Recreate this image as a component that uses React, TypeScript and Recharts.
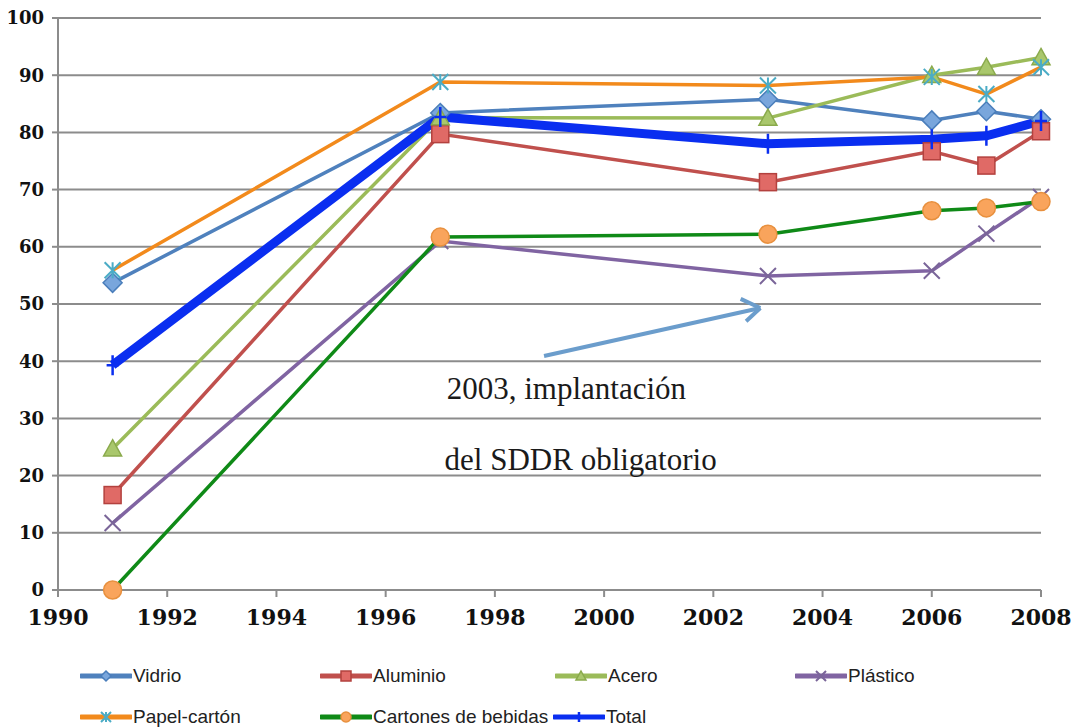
import React from "react";
import {
  LineChart,
  Line,
  XAxis,
  YAxis,
  CartesianGrid,
  Legend,
  ReferenceLine,
  ReferenceDot,
} from "recharts";

// recycling rate (%) per material
const years = [1991, 1997, 2003, 2006, 2007, 2008];
const vidrio = [53.7, 83.4, 85.8, 82.1, 83.7, 82.3];
const aluminio = [16.6, 79.7, 71.3, 76.7, 74.2, 80.2];
const acero = [24.7, 82.6, 82.5, 90.0, 91.4, 93.1];
const plastico = [11.7, 61.0, 54.9, 55.8, 62.3, 68.7];
const papel = [55.9, 88.8, 88.2, 89.7, 86.7, 91.4];
const cartones = [0, 61.7, 62.2, 66.3, 66.8, 67.9];
const total = [39.3, 82.7, 78.0, 78.8, 79.4, 82.0];

const xTicks = [1990, 1992, 1994, 1996, 1998, 2000, 2002, 2004, 2006, 2008];
const yTicks = [0, 10, 20, 30, 40, 50, 60, 70, 80, 90, 100];

// annotation (arrow in data coordinates + text)
const arrowTail = { x: 1998.9, y: 40.9 };
const arrowTip = { x: 2002.86, y: 49.3 };
const arrowWingA = { x: 2002.5, y: 50.9 };
const arrowWingB = { x: 2002.6, y: 47.0 };
const noteLines = [
  { x: 1999.31, y: 35.3, text: "2003, implantación" },
  { x: 1999.57, y: 22.8, text: "del SDDR obligatorio" },
];

const data = years.map((year, i) => ({
  year,
  vidrio: vidrio[i],
  aluminio: aluminio[i],
  acero: acero[i],
  plastico: plastico[i],
  papel: papel[i],
  cartones: cartones[i],
  total: total[i],
}));

type DotProps = { cx?: number; cy?: number; index?: number };

const diamond = (s: number) => (p: DotProps) => {
  const { cx = 0, cy = 0 } = p;
  return (
    <path
      key={`d${p.index}`}
      d={`M${cx},${cy - s}L${cx + s},${cy}L${cx},${cy + s}L${cx - s},${cy}Z`}
      fill="#79a6dc"
      stroke="#4a7ebb"
      strokeWidth={1.5}
    />
  );
};
const square = (s: number) => (p: DotProps) => {
  const { cx = 0, cy = 0 } = p;
  return (
    <rect
      key={`s${p.index}`}
      x={cx - s}
      y={cy - s}
      width={s * 2}
      height={s * 2}
      fill="#e06a66"
      stroke="#b3413e"
      strokeWidth={1.5}
    />
  );
};
const triangle = (s: number) => (p: DotProps) => {
  const { cx = 0, cy = 0 } = p;
  return (
    <path
      key={`t${p.index}`}
      d={`M${cx},${cy - s}L${cx + s},${cy + s * 0.8}L${cx - s},${cy + s * 0.8}Z`}
      fill="#a9c76c"
      stroke="#8aaa4c"
      strokeWidth={1.5}
    />
  );
};
const cross = (s: number) => (p: DotProps) => {
  const { cx = 0, cy = 0 } = p;
  return (
    <path
      key={`x${p.index}`}
      d={`M${cx - s},${cy - s}L${cx + s},${cy + s}M${cx - s},${cy + s}L${cx + s},${cy - s}`}
      stroke="#7a6599"
      strokeWidth={2}
    />
  );
};
const star = (s: number) => (p: DotProps) => {
  const { cx = 0, cy = 0 } = p;
  return (
    <path
      key={`a${p.index}`}
      d={`M${cx - s},${cy - s}L${cx + s},${cy + s}M${cx - s},${cy + s}L${cx + s},${cy - s}M${cx},${cy - s}L${cx},${cy + s}`}
      stroke="#4bacc6"
      strokeWidth={2}
    />
  );
};
const circle = (s: number) => (p: DotProps) => {
  const { cx = 0, cy = 0 } = p;
  return (
    <circle
      key={`c${p.index}`}
      cx={cx}
      cy={cy}
      r={s}
      fill="#f9a45c"
      stroke="#e8903e"
      strokeWidth={1.5}
    />
  );
};
const plus = (s: number) => (p: DotProps) => {
  const { cx = 0, cy = 0 } = p;
  return (
    <path
      key={`p${p.index}`}
      d={`M${cx},${cy - s}L${cx},${cy + s}M${cx - s * 0.6},${cy}L${cx + s * 0.6},${cy}`}
      stroke="#0a2ef0"
      strokeWidth={2.5}
    />
  );
};

const series = [
  { key: "vidrio", name: "Vidrio", color: "#4f81bd", width: 3.5, dot: diamond },
  { key: "aluminio", name: "Aluminio", color: "#c0504d", width: 3.5, dot: square },
  { key: "acero", name: "Acero", color: "#9bbb59", width: 3.5, dot: triangle },
  { key: "plastico", name: "Plástico", color: "#8064a2", width: 3.5, dot: cross },
  { key: "papel", name: "Papel-cartón", color: "#f28a1c", width: 3.5, dot: star },
  { key: "cartones", name: "Cartones de bebidas", color: "#0f8a17", width: 3.5, dot: circle },
  { key: "total", name: "Total", color: "#0a2ef0", width: 9, dot: plus },
];
const markerSize = [9.5, 8.5, 9, 8, 8, 9, 10];

// legend grid: [column x, row]
const legendPos = [
  [80, 0],
  [320, 0],
  [555, 0],
  [795, 0],
  [80, 1],
  [320, 1],
  [553, 1],
];

function renderLegend() {
  return (
    <div style={{ position: "relative", width: 1072, height: 98 }}>
      {series.map((s, i) => {
        const [x, row] = legendPos[i];
        const Dot = s.dot(5);
        return (
          <div
            key={s.key}
            style={{
              position: "absolute",
              left: x,
              top: row === 0 ? 34 : 75,
              display: "flex",
              alignItems: "center",
              fontFamily: "'Liberation Sans', Arial, sans-serif",
              fontSize: 19,
              color: "#222",
              lineHeight: "24px",
            }}
          >
            <svg width={52} height={16} style={{ marginRight: 1 }}>
              <line
                x1={1}
                y1={8}
                x2={51}
                y2={8}
                stroke={s.color}
                strokeWidth={5}
                strokeLinecap="round"
              />
              {Dot({ cx: 26, cy: 8, index: 0 })}
            </svg>
            <span>{s.name}</span>
          </div>
        );
      })}
    </div>
  );
}

const noteText = (text: string) => (p: any) => (
  <text
    x={p.cx}
    y={p.cy}
    textAnchor="middle"
    dominantBaseline="central"
    fontFamily="'Liberation Serif', serif"
    fontSize={31}
    fill="#1a1a1a"
  >
    {text}
  </text>
);

export default function App() {
  return (
    <div style={{ position: "absolute", left: 0, top: 0, background: "#fff" }}>
      <LineChart
        width={1072}
        height={728}
        data={data}
        margin={{ top: 18, right: 31, left: 0, bottom: 0 }}
      >
        <CartesianGrid
          vertical={false}
          stroke="#8c8c8c"
          strokeWidth={2}
        />
        <XAxis
          dataKey="year"
          type="number"
          domain={[1990, 2008]}
          ticks={xTicks}
          height={40}
          stroke="#8c8c8c"
          strokeWidth={2}
          tickSize={7}
          tickMargin={12}
          tick={{
            fill: "#111",
            fontSize: 22,
            fontWeight: 700,
            fontFamily: "'DejaVu Serif', serif",
          }}
        />
        <YAxis
          type="number"
          domain={[0, 100]}
          ticks={yTicks}
          width={58}
          stroke="#8c8c8c"
          strokeWidth={2}
          tickSize={6}
          tickMargin={8}
          tick={{
            fill: "#111",
            fontSize: 18,
            fontWeight: 700,
            fontFamily: "'DejaVu Serif', serif",
          }}
        />
        <Legend
          verticalAlign="bottom"
          height={98}
          content={renderLegend}
          wrapperStyle={{ left: 0, width: 1072, height: 98 }}
        />
        <ReferenceLine
          segment={[arrowTail, arrowTip]}
          stroke="#6b9dcc"
          strokeWidth={4}
          ifOverflow="visible"
        />
        <ReferenceLine
          segment={[arrowWingA, arrowTip]}
          stroke="#6b9dcc"
          strokeWidth={4}
          ifOverflow="visible"
        />
        <ReferenceLine
          segment={[arrowWingB, arrowTip]}
          stroke="#6b9dcc"
          strokeWidth={4}
          ifOverflow="visible"
        />
        {noteLines.map((n) => (
          <ReferenceDot
            key={n.text}
            x={n.x}
            y={n.y}
            r={0}
            ifOverflow="visible"
            shape={noteText(n.text)}
          />
        ))}
        {series.map((s, i) => (
          <Line
            key={s.key}
            type="linear"
            dataKey={s.key}
            name={s.name}
            stroke={s.color}
            strokeWidth={s.width}
            dot={s.dot(markerSize[i])}
            activeDot={false}
            isAnimationActive={false}
          />
        ))}
      </LineChart>
    </div>
  );
}
